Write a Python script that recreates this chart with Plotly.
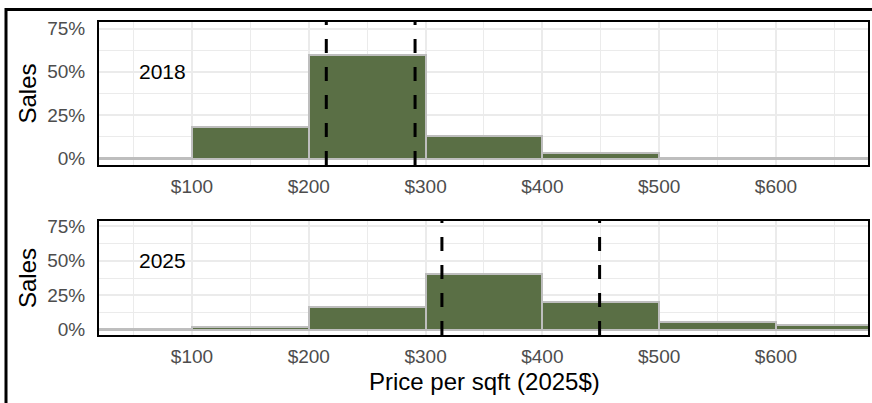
import plotly.graph_objects as go

# ---- data ----
bin_centers = [50, 150, 250, 350, 450, 550, 650]   # $ per sqft, bins of width 100
share_2018 = [0.3, 18.2, 59.8, 12.9, 3.0, 0.4, 0.4]  # % of sales
share_2025 = [0.4, 2.3, 16.8, 40.6, 20.3, 5.9, 3.3]  # % of sales
quartiles_2018 = [215, 291]
quartiles_2025 = [314, 449]
year_labels = ["2018", "2025"]
x_ticks = [100, 200, 300, 400, 500, 600]
y_ticks = [0, 25, 50, 75]
x_tick_text = ["$" + str(v) for v in x_ticks]
y_tick_text = [str(v) + "%" for v in y_ticks]

W, H = 872, 403
FONT = "Liberation Sans, Arial, Helvetica, sans-serif"
FILL = "#5a6f45"
EDGE = "#bebebe"
GRID = "#ebebeb"

fig = go.Figure()

panels = [
    dict(vals=share_2018, q=quartiles_2018, label=year_labels[0], top=22, bottom=165),
    dict(vals=share_2025, q=quartiles_2025, label=year_labels[1], top=221, bottom=335),
]

x_dom = [99 / W, 868 / W]
shapes = []
annotations = []

for i, p in enumerate(panels):
    n = "" if i == 0 else str(i + 1)
    xa, ya = "x" + n, "y" + n
    fig.add_trace(go.Bar(
        x=bin_centers, y=p["vals"], width=100,
        marker=dict(color=FILL, line=dict(color=EDGE, width=2)),
        xaxis=xa, yaxis=ya, showlegend=False, hoverinfo="skip",
    ))
    y_dom = [1 - p["bottom"] / H, 1 - p["top"] / H]
    common = dict(showline=True, linecolor="black", linewidth=2, mirror=True,
                  ticks="", zeroline=False, gridcolor=GRID, gridwidth=1.6,
                  tickfont=dict(family=FONT, size=19, color="#4d4d4d"),
                  automargin=False)
    fig.update_layout(**{
        "xaxis" + n: dict(domain=x_dom, range=[20.4, 678.8], tickmode="array",
                          tickvals=x_ticks, ticktext=x_tick_text,
                          anchor=ya, ticklabelstandoff=3,
                          minor=dict(dtick=50, tick0=0, showgrid=True,
                                     gridcolor=GRID, gridwidth=0.8),
                          **common),
        "yaxis" + n: dict(domain=y_dom, range=[-3.75, 78.75], tickmode="array",
                          tickvals=y_ticks, ticktext=y_tick_text,
                          anchor=xa, ticklabelstandoff=8,
                          minor=dict(dtick=12.5, tick0=0, showgrid=True,
                                     gridcolor=GRID, gridwidth=0.8),
                          **common),
    })
    for q in p["q"]:
        shapes.append(dict(type="line", xref=xa, yref=ya + " domain",
                           x0=q, x1=q, y0=0, y1=1, layer="above",
                           line=dict(color="black", width=3, dash="14px,14px")))
    annotations.append(dict(text=p["label"], xref=xa, yref=ya, x=75, y=50,
                            showarrow=False, xanchor="center", yanchor="middle",
                            font=dict(family=FONT, size=21, color="black")))
    annotations.append(dict(text="Sales", xref="paper", yref="paper",
                            x=27 / W, y=1 - (p["top"] + p["bottom"]) / 2 / H,
                            textangle=-90, showarrow=False,
                            xanchor="center", yanchor="middle",
                            font=dict(family=FONT, size=24, color="black")))

annotations.append(dict(text="Price per sqft (2025$)", xref="paper", yref="paper",
                        x=484 / W, y=1 - 381 / H, showarrow=False,
                        xanchor="center", yanchor="middle",
                        font=dict(family=FONT, size=24, color="black")))

# outer frame (extends past right/bottom edge like the reference crop)
shapes.append(dict(type="rect", xref="paper", yref="paper",
                   x0=6 / W, x1=1.05, y0=-0.05, y1=1 - 9.5 / H, layer="above",
                   line=dict(color="black", width=3), fillcolor="rgba(0,0,0,0)"))

fig.update_layout(
    width=W, height=H, margin=dict(l=0, r=0, t=0, b=0),
    template="none", paper_bgcolor="white", plot_bgcolor="white",
    bargap=0, shapes=shapes, annotations=annotations,
    font=dict(family=FONT),
)

fig.write_html("out.html", config={"displayModeBar": False},
               post_script="document.body.style.margin='0';document.body.style.overflow='hidden';")
